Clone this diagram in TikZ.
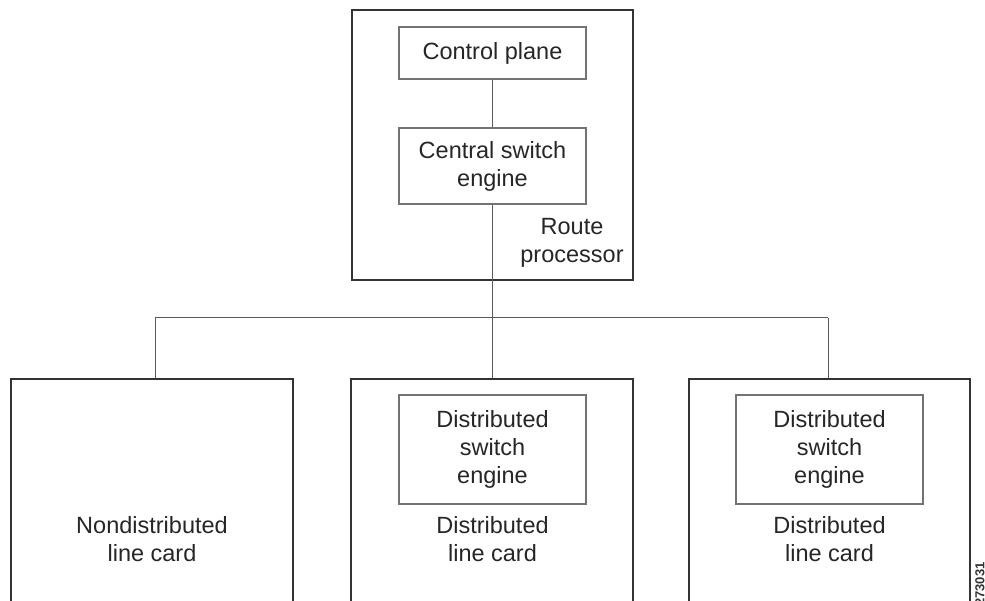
\documentclass[tikz,border=0pt]{standalone}
\usepackage{fontspec}
\setmainfont{Liberation Sans}
\begin{document}
\begin{tikzpicture}[x=1pt,y=-1pt,
  outerbox/.style={draw=black!80,line width=2pt},
  innerbox/.style={draw=black!55,line width=1.3pt,fill=white},
  link/.style={draw=black!65,line width=1pt},
  lbl/.style={font=\fontsize{23.5}{28}\selectfont,align=center,text=black!85,inner sep=0pt}]
\useasboundingbox (0,0) rectangle (985,601);
% route processor
\node[outerbox,minimum width=281,minimum height=270,inner sep=0pt] (rp) at (492.5,145) {};
\node[innerbox,minimum width=187,minimum height=52,inner sep=0pt] (cp) at (492.5,53) {};
\node[lbl] at (cp) {Control plane};
\node[innerbox,minimum width=187,minimum height=76,inner sep=0pt] (cse) at (492.5,166) {};
\node[lbl] at (cse) {Central switch\\engine};
\node[lbl] (rplbl) at (572,243) {Route\\processor};
% line cards
\node[outerbox,minimum width=282,minimum height=260,inner sep=0pt,anchor=north] (lc1) at (152,378) {};
\node[outerbox,minimum width=282,minimum height=260,inner sep=0pt,anchor=north] (lc2) at (492,378) {};
\node[outerbox,minimum width=281,minimum height=260,inner sep=0pt,anchor=north] (lc3) at (829.5,378) {};
\node[lbl] (lc1lbl) at (152,539) {Nondistributed\\line card};
\node[innerbox,minimum width=187,minimum height=109,inner sep=0pt] (dse2) at (492.5,449.5) {};
\node[lbl] at (dse2) {Distributed\\switch\\engine};
\node[lbl] (lc2lbl) at (492.5,539) {Distributed\\line card};
\node[innerbox,minimum width=187,minimum height=109,inner sep=0pt] (dse3) at (829.5,449.5) {};
\node[lbl] at (dse3) {Distributed\\switch\\engine};
\node[lbl] (lc3lbl) at (829.5,539) {Distributed\\line card};
% connectors
\coordinate (bus) at (492.5,318);
\draw[link] (cp.south) -- (cse.south |- cp.south) -- (cse.north);
\draw[link] (cse.south) -- (bus);
\draw[link] (bus -| 155,0) -- (bus -| 828,0);
\draw[link] (bus -| 155,0) -- (lc1.north -| 155,0);
\draw[link] (bus) -- (lc2.north -| bus);
\draw[link] (bus -| 828,0) -- (lc3.north -| 828,0);
% figure number (cut off at the right edge, as in the reference)
\node[rotate=90,font=\fontsize{13}{13}\selectfont\bfseries,text=black!80,anchor=north west,inner sep=0pt] (fig) at (975,606) {273031};
\end{tikzpicture}
\end{document}
